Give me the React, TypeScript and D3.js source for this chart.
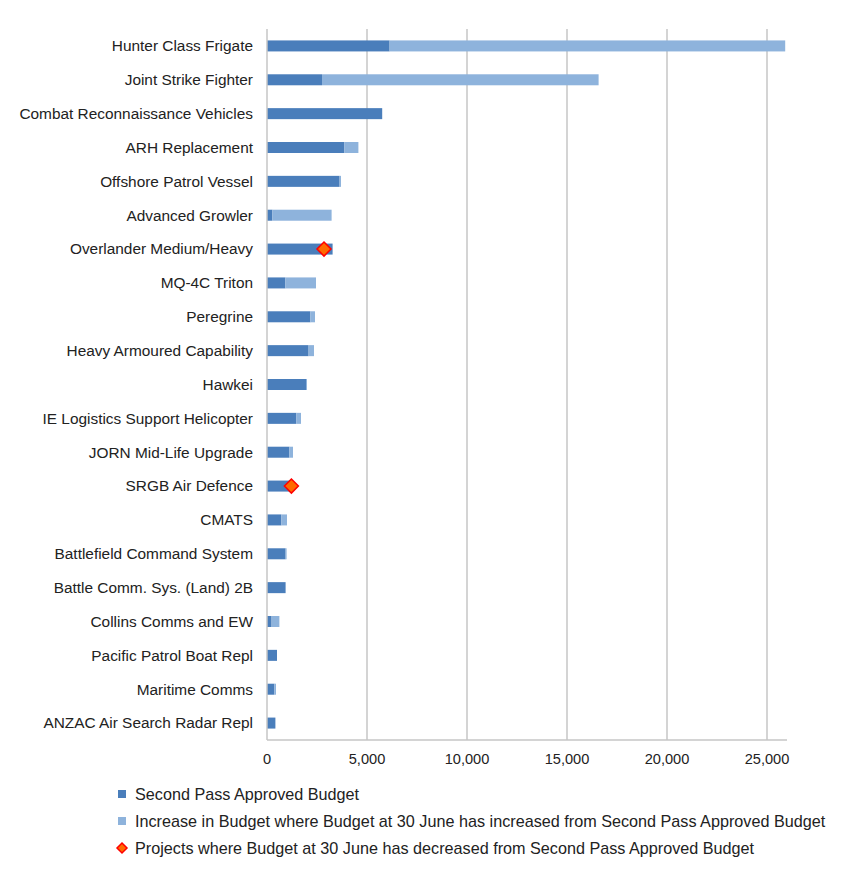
import { scaleBand, scaleLinear } from 'd3';

// Defence major projects: second pass approved budget vs budget at 30 June ($m)
const projects = [
  'Hunter Class Frigate',
  'Joint Strike Fighter',
  'Combat Reconnaissance Vehicles',
  'ARH Replacement',
  'Offshore Patrol Vessel',
  'Advanced Growler',
  'Overlander Medium/Heavy',
  'MQ-4C Triton',
  'Peregrine',
  'Heavy Armoured Capability',
  'Hawkei',
  'IE Logistics Support Helicopter ',
  'JORN Mid-Life Upgrade',
  'SRGB Air Defence',
  'CMATS',
  'Battlefield Command System',
  'Battle Comm. Sys. (Land) 2B',
  'Collins Comms and EW',
  'Pacific Patrol Boat Repl',
  'Maritime Comms',
  'ANZAC Air Search Radar Repl',
];
const secondPass = [6130, 2750, 5760, 3870, 3630, 270, 3280, 920, 2170, 2080, 1950, 1470, 1120, 1300, 720, 930, 930, 230, 500, 370, 420];
const increase = [19780, 13830, 0, 700, 70, 2960, 0, 1530, 230, 270, 50, 230, 180, 0, 280, 50, 0, 390, 0, 80, 0];
const decreased: (number | null)[] = [null, null, null, null, null, null, 2850, null, null, null, null, null, null, 1220, null, null, null, null, null, null, null];
const xTicks = [0, 5000, 10000, 15000, 20000, 25000];
const legendLabels = [
  'Second Pass Approved Budget',
  'Increase in Budget where Budget at 30 June has increased from Second Pass Approved Budget',
  'Projects where Budget at 30 June has decreased from Second Pass Approved Budget',
];

const DARK = '#4a7ebb';
const LIGHT = '#8eb3dc';
const GRID = '#c6c6c6';
const FONT = 'Liberation Sans, Arial, sans-serif';

function Diamond({ cx, cy, r }: { cx: number; cy: number; r: number }) {
  return (
    <path
      d={`M${cx},${cy - r}L${cx + r},${cy}L${cx},${cy + r}L${cx - r},${cy}Z`}
      fill="#ff6a00"
      stroke="#ff0000"
      strokeWidth={1.5}
    />
  );
}

export default function App() {
  const width = 848;
  const height = 886;
  const m = { top: 29, left: 267, right: 61, bottom: 146 };
  const x = scaleLinear().domain([0, 26000]).range([m.left, width - m.right]);
  const y = scaleBand().domain(projects).range([m.top, height - m.bottom]).paddingInner(0.675).paddingOuter(0.3375);
  const bh = y.bandwidth();
  const axisY = height - m.bottom;

  return (
    <div style={{ position: 'absolute', left: 0, top: 0 }}>
      <svg width={width} height={height} style={{ display: 'block', background: '#fff', fontFamily: FONT }}>
        {xTicks.map((t) => (
          <g key={t}>
            {t > 0 && <line x1={x(t)} x2={x(t)} y1={m.top} y2={axisY} stroke={GRID} strokeWidth={1.5} />}
            <text x={x(t)} y={axisY + 24} textAnchor="middle" fontSize={14.6} fill="#222">
              {t.toLocaleString('en-US')}
            </text>
          </g>
        ))}
        {projects.map((p, i) => {
          const yy = y(p)!;
          return (
            <g key={p}>
              <rect x={x(0)} y={yy} width={x(secondPass[i]) - x(0)} height={bh} fill={DARK} />
              {increase[i] > 0 && (
                <rect x={x(secondPass[i])} y={yy} width={x(secondPass[i] + increase[i]) - x(secondPass[i])} height={bh} fill={LIGHT} />
              )}
              <text x={m.left - 14} y={yy + bh / 2} dy="0.35em" textAnchor="end" fontSize={15.4} fill="#222">
                {p}
              </text>
            </g>
          );
        })}
        {projects.map((p, i) =>
          decreased[i] != null ? <Diamond key={p} cx={x(decreased[i]!)} cy={y(p)! + bh / 2} r={7} /> : null
        )}
        <line x1={m.left} x2={m.left} y1={m.top} y2={axisY} stroke={GRID} strokeWidth={1.5} />
        <line x1={m.left} x2={width - m.right} y1={axisY} y2={axisY} stroke={GRID} strokeWidth={1.5} />
        {legendLabels.map((l, i) => {
          const ly = 794 + i * 27;
          return (
            <g key={l}>
              {i < 2 ? (
                <rect x={118} y={ly - 4} width={8} height={8} fill={i === 0 ? DARK : LIGHT} />
              ) : (
                <Diamond cx={122} cy={ly} r={5} />
              )}
              <text x={135} y={ly} dy="0.35em" fontSize={16.2} fill="#222">
                {l}
              </text>
            </g>
          );
        })}
      </svg>
    </div>
  );
}
